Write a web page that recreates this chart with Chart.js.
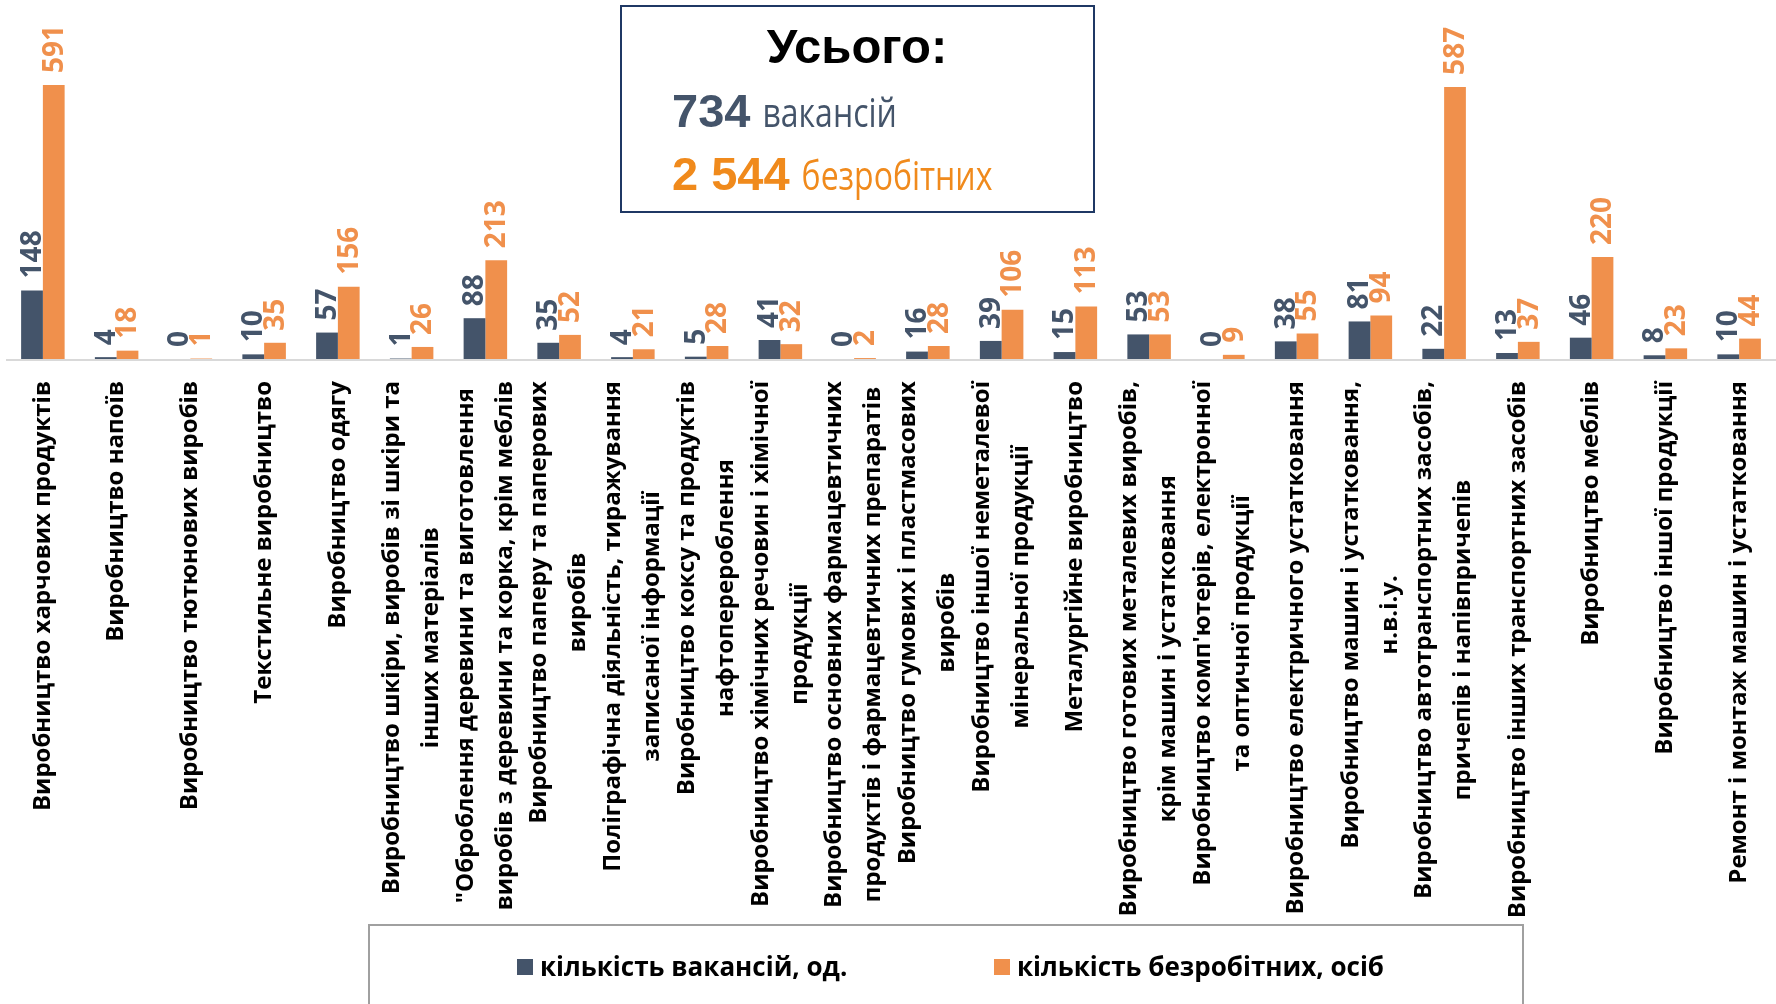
<!DOCTYPE html>
<html lang="uk">
<head>
<meta charset="UTF-8">
<title>Вакансії та безробітні за видами переробної промисловості</title>
<script src="https://cdn.jsdelivr.net/npm/chart.js"></script>
<style>
  html, body { margin: 0; padding: 0; background: #fff; }
  #wrap { position: relative; width: 1776px; height: 1004px; }
</style>
</head>
<body>
<div id="wrap"><canvas id="chart" width="1776" height="1004"></canvas></div>
<script>
// categories (each entry = lines of the wrapped label)
const categories = [
  ['Виробництво харчових продуктів'],
  ['Виробництво напоїв'],
  ['Виробництво тютюнових виробів'],
  ['Текстильне виробництво'],
  ['Виробництво одягу'],
  ['Виробництво шкіри, виробів зі шкіри та', 'інших матеріалів'],
  ['"Оброблення деревини та виготовлення', 'виробів з деревини та корка, крім меблів'],
  ['Виробництво паперу та паперових', 'виробів'],
  ['Поліграфічна діяльність, тиражування', 'записаної інформації'],
  ['Виробництво коксу та продуктів', 'нафтоперероблення'],
  ['Виробництво хімічних речовин і хімічної', 'продукції'],
  ['Виробництво основних фармацевтичних', 'продуктів і фармацевтичних препаратів'],
  ['Виробництво гумових і пластмасових', 'виробів'],
  ['Виробництво іншої неметалевої', 'мінеральної продукції'],
  ['Металургійне виробництво'],
  ['Виробництво готових металевих виробів,', 'крім машин і устатковання'],
  ["Виробництво комп'ютерів, електронної", 'та оптичної продукції'],
  ['Виробництво електричного устатковання'],
  ['Виробництво машин і устатковання,', 'н.в.і.у.'],
  ['Виробництво автотранспортних засобів,', 'причепів і напівпричепів'],
  ['Виробництво інших транспортних засобів'],
  ['Виробництво меблів'],
  ['Виробництво іншої продукції'],
  ['Ремонт і монтаж машин і устатковання']
];

const vacancies  = [148, 4, 0, 10, 57, 1, 88, 35, 4, 5, 41, 0, 16, 39, 15, 53, 0, 38, 81, 22, 13, 46, 8, 10];
const unemployed = [591, 18, 1, 35, 156, 26, 213, 52, 21, 28, 32, 2, 28, 106, 113, 53, 9, 55, 94, 587, 37, 220, 23, 44];

const seriesNames = ['кількість вакансій, од.', 'кількість безробітних, осіб'];
const seriesColors = ['#44546A', '#F0904C'];
const totalTitle = 'Усього:';
const totalWords = ['вакансій', 'безробітних'];

const sum = arr => arr.reduce((a, b) => a + b, 0);
const fmt = n => String(n).replace(/\B(?=(\d{3})+(?!\d))/g, ' ');

const extras = {
  id: 'extras',
  beforeDatasetsDraw(chart) {
    const { ctx, chartArea, scales } = chart;
    const y0 = scales.y.getPixelForValue(0);
    ctx.save();
    ctx.strokeStyle = '#D9D9D9';
    ctx.lineWidth = 2;
    ctx.beginPath();
    ctx.moveTo(chartArea.left, y0 + 1);
    ctx.lineTo(chartArea.right, y0 + 1);
    ctx.stroke();
    ctx.restore();
  },
  afterDatasetsDraw(chart) {
    const { ctx, scales } = chart;
    ctx.save();

    // value labels above the bars, rotated
    ctx.font = 'bold 28px "Open Sans"';
    ctx.textAlign = 'left';
    ctx.textBaseline = 'middle';
    chart.data.datasets.forEach((ds, di) => {
      chart.getDatasetMeta(di).data.forEach((bar, i) => {
        ctx.save();
        ctx.translate(bar.x + 1, bar.y - 12);
        ctx.rotate(-Math.PI / 2);
        ctx.fillStyle = ds.backgroundColor;
        ctx.fillText(String(ds.data[i]), 0, 0);
        ctx.restore();
      });
    });

    // category labels, rotated, lines centred on each other
    ctx.font = 'bold 24px "Open Sans"';
    ctx.fillStyle = '#000';
    ctx.textAlign = 'center';
    const lineH = 39;
    const top = scales.y.getPixelForValue(0) + 22;
    categories.forEach((lines, i) => {
      const cx = scales.x.getPixelForValue(i);
      const w = Math.max(...lines.map(l => ctx.measureText(l).width));
      ctx.save();
      ctx.translate(cx, top);
      ctx.rotate(-Math.PI / 2);
      lines.forEach((l, j) => ctx.fillText(l, -w / 2, (j - (lines.length - 1) / 2) * lineH));
      ctx.restore();
    });
    ctx.restore();
  },
  afterDraw(chart) {
    const { ctx } = chart;
    ctx.save();

    // totals box
    ctx.strokeStyle = '#1F3864';
    ctx.lineWidth = 2;
    ctx.strokeRect(621, 6, 473, 206);
    ctx.textBaseline = 'alphabetic';
    ctx.textAlign = 'center';
    ctx.fillStyle = '#000';
    ctx.font = 'bold 49px "Liberation Sans"';
    ctx.fillText(totalTitle, 857, 63);

    ctx.textAlign = 'left';
    const totals = [fmt(sum(vacancies)), fmt(sum(unemployed))];
    const totalColors = ['#44546A', '#F08A1C'];
    const baselines = [127, 190];
    totals.forEach((t, i) => {
      ctx.fillStyle = totalColors[i];
      ctx.font = 'bold 47px "Liberation Sans"';
      ctx.fillText(t, 672, baselines[i]);
      const w = ctx.measureText(t).width;
      ctx.save();
      ctx.translate(672 + w + 12, baselines[i]);
      ctx.scale(0.8, 1);
      ctx.font = '40px "Open Sans"';
      ctx.fillText(totalWords[i], 0, 0);
      ctx.restore();
    });

    // legend
    ctx.strokeStyle = '#A0A0A0';
    ctx.lineWidth = 2;
    ctx.strokeRect(369, 925, 1154, 120);
    ctx.font = 'bold 26px "Open Sans"';
    const legendX = [517, 994];
    seriesNames.forEach((name, i) => {
      ctx.fillStyle = seriesColors[i];
      ctx.fillRect(legendX[i], 959, 16, 16);
      ctx.fillStyle = '#000';
      ctx.fillText(name, legendX[i] + 23, 976);
    });
    ctx.restore();
  }
};

new Chart(document.getElementById('chart').getContext('2d'), {
  type: 'bar',
  data: {
    labels: categories.map(c => c.join(' ')),
    datasets: [
      { label: seriesNames[0], data: vacancies, backgroundColor: seriesColors[0], categoryPercentage: 0.59, barPercentage: 1 },
      { label: seriesNames[1], data: unemployed, backgroundColor: seriesColors[1], categoryPercentage: 0.59, barPercentage: 1 }
    ]
  },
  options: {
    responsive: false,
    animation: false,
    devicePixelRatio: 1,
    layout: { padding: { left: 6, right: 0, top: 9, bottom: 645 } },
    plugins: { legend: { display: false }, tooltip: { enabled: true } },
    scales: {
      x: { display: false },
      y: { display: false, min: 0, max: 755 }
    }
  },
  plugins: [extras]
});
</script>
</body>
</html>
